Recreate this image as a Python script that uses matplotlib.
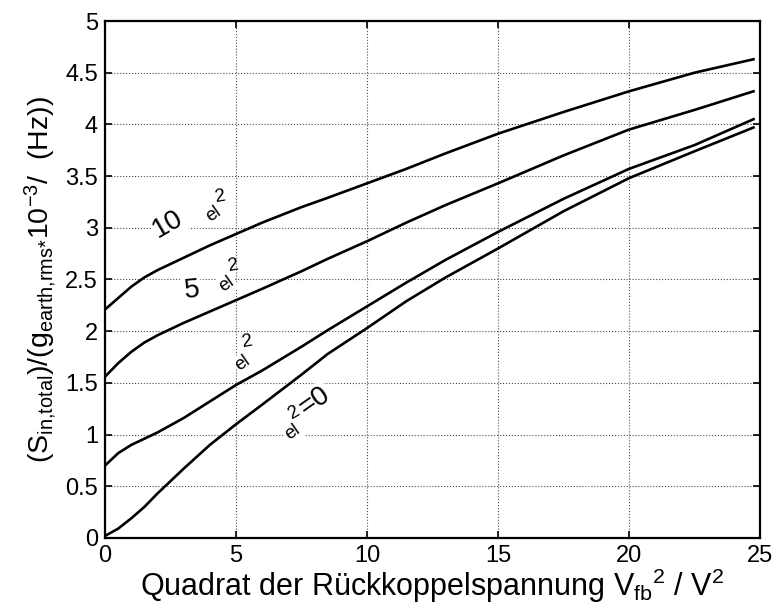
#!/usr/bin/env python3
"""Eingangsrauschen über dem Quadrat der Rückkoppelspannung"""
import matplotlib
matplotlib.use("Agg")
import matplotlib.pyplot as plt

plt.rcParams["font.family"] = ["Liberation Sans", "DejaVu Sans"]
plt.rcParams["mathtext.fontset"] = "custom"
plt.rcParams["mathtext.rm"] = "Liberation Sans"

v_fb2 = [0, 0.5, 1, 1.5, 2, 2.5, 3, 4, 5, 6, 7.5, 8.5, 10, 11.5, 13,
         15, 17.5, 20, 22.5, 24.75]
s_el10 = [2.21, 2.32, 2.43, 2.52, 2.59, 2.65, 2.71, 2.83, 2.94, 3.05, 3.20, 3.29, 3.43, 3.57, 3.72,
          3.91, 4.12, 4.32, 4.50, 4.63]
s_el5 = [1.56, 1.69, 1.80, 1.89, 1.96, 2.02, 2.08, 2.19, 2.30, 2.41, 2.58, 2.70, 2.87, 3.05, 3.22,
         3.43, 3.70, 3.95, 4.14, 4.32]
s_el1 = [0.70, 0.82, 0.90, 0.96, 1.02, 1.09, 1.16, 1.32, 1.48, 1.62, 1.85, 2.01, 2.24, 2.47, 2.69,
         2.96, 3.28, 3.57, 3.80, 4.05]
s_el0 = [0.02, 0.09, 0.19, 0.30, 0.43, 0.55, 0.67, 0.90, 1.10, 1.29, 1.58, 1.78, 2.03, 2.29, 2.52,
         2.80, 3.16, 3.48, 3.74, 3.97]

xticks = [0, 5, 10, 15, 20, 25]
yticks = [0, 0.5, 1, 1.5, 2, 2.5, 3, 3.5, 4, 4.5, 5]
ytick_labels = ["0", "0.5", "1", "1.5", "2", "2.5", "3", "3.5", "4", "4.5", "5"]


def main() -> None:
    fig = plt.figure(figsize=(7.82, 6.07), dpi=100)
    ax = fig.add_axes([0.1343, 0.1137, 0.8376, 0.8517])

    for ys in (s_el10, s_el5, s_el1, s_el0):
        ax.plot(v_fb2, ys, color="black", linewidth=1.9, zorder=3)

    ax.set_xlim(0, 25)
    ax.set_ylim(0, 5)
    ax.set_xticks(xticks)
    ax.set_yticks(yticks)
    ax.set_yticklabels(ytick_labels)
    ax.tick_params(direction="in", length=5, width=1.2, labelsize=17,
                   top=True, right=True, pad=5)
    ax.grid(True, linestyle=":", color="0.3", linewidth=0.8)
    for sp in ax.spines.values():
        sp.set_linewidth(1.6)

    ax.set_xlabel(r"Quadrat der Rückkoppelspannung V$\mathregular{_{fb}}$$\mathregular{^2}$ / V$\mathregular{^2}$",
                  fontsize=22, labelpad=0)
    ax.set_ylabel(r"(S$\mathregular{_{in{,}total}}$)/(g$\mathregular{_{earth{,}rms{*}}}$10$\mathregular{^{-3}}$/  (Hz))",
                  fontsize=20.5, labelpad=5)

    bg = dict(facecolor="white", edgecolor="none", pad=1)
    big = dict(fontsize=20, ha="center", va="center", zorder=4)
    small = dict(fontsize=13.5, ha="center", va="center", zorder=4)

    def px(x, y):
        # Pixelposition im Bild -> Datenkoordinaten
        return (x - 105) / 26.2, (538 - y) / 103.4

    ax.text(*px(168, 224), "10", rotation=30, bbox=bg, **big)
    ax.text(*px(214, 214), "el", rotation=35, bbox=bg, **small)
    ax.text(*px(220, 197), "2", rotation=10, **small)

    ax.text(*px(192, 290), "5", rotation=5, bbox=bg, **big)
    ax.text(*px(227, 284), "el", rotation=35, bbox=bg, **small)
    ax.text(*px(233, 266), "2", rotation=10, **small)

    ax.text(*px(243, 363), "el", rotation=35, bbox=bg, **small)
    ax.text(*px(247, 342), "2", rotation=10, **small)

    ax.text(*px(293, 432), "el", rotation=35, bbox=bg, **small)
    ax.text(*px(294, 412), "2", rotation=30, **small)
    ax.text(*px(315, 401), "=0", rotation=35, bbox=bg, **big)

    fig.savefig("out.png", dpi=100)
    plt.close(fig)


if __name__ == "__main__":
    main()
